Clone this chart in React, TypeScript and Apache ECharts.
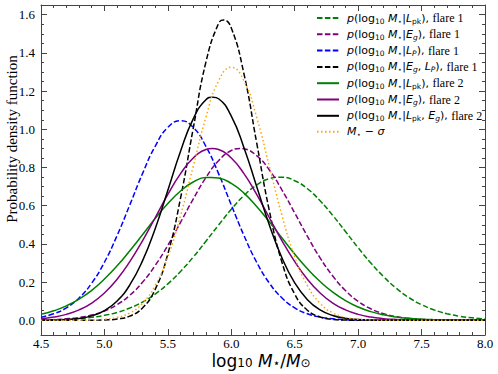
import React, { useEffect, useRef } from "react";
import * as echarts from "echarts";

// x grid (log10 M*/Msun)
const xs = [
  4.5, 4.6, 4.7, 4.8, 4.9, 5.0, 5.1, 5.2, 5.3, 5.4, 5.5, 5.6, 5.7, 5.8, 5.9, 6.0, 6.1, 6.2,
  6.3, 6.4, 6.5, 6.6, 6.7, 6.8, 6.9, 7.0, 7.1, 7.2, 7.3, 7.4, 7.5, 7.6, 7.7, 7.8, 7.9, 8.0,
];

const lpkFlare1 = [
  0.0015, 0.0028, 0.0051, 0.0091, 0.0156, 0.0259, 0.0415, 0.0641, 0.0955, 0.1375, 0.191, 0.256,
  0.331, 0.414, 0.499, 0.581, 0.653, 0.708, 0.742, 0.749, 0.731, 0.689, 0.626, 0.549, 0.465, 0.38,
  0.3, 0.229, 0.168, 0.119, 0.0818, 0.0541, 0.0346, 0.0213, 0.0127, 0.0073,
];
const egFlare1 = [
  0.0017, 0.0037, 0.0075, 0.0148, 0.0275, 0.0487, 0.0819, 0.131, 0.199, 0.287, 0.393, 0.513, 0.635,
  0.747, 0.836, 0.889, 0.898, 0.862, 0.787, 0.682, 0.562, 0.44, 0.327, 0.232, 0.156, 0.0994, 0.0603,
  0.0348, 0.0191, 0.0099, 0.0049, 0.0023, 0.001, 0.0004, 0.0002, 0.0001,
];
const lpFlare1 = [
  0.0165, 0.034, 0.0651, 0.117, 0.195, 0.304, 0.444, 0.604, 0.768, 0.911, 1.01, 1.045, 1.01, 0.911,
  0.768, 0.604, 0.444, 0.304, 0.195, 0.117, 0.0651, 0.034, 0.0165, 0.0075, 0.0032, 0.0013, 0.0005,
  0.0002, 0.0001, 0, 0, 0, 0, 0, 0, 0,
];
const egLpFlare1 = [
  0, 0, 0, 0.0001, 0.0003, 0.0016, 0.0064, 0.0221, 0.0647, 0.162, 0.348, 0.64, 1.005, 1.352, 1.555,
  1.531, 1.29, 0.93, 0.574, 0.303, 0.137, 0.0528, 0.0175, 0.0049, 0.0012, 0.0002, 0, 0, 0, 0, 0, 0,
  0, 0, 0, 0,
];
const lpkFlare2 = [
  0.0314, 0.0496, 0.0755, 0.111, 0.157, 0.216, 0.285, 0.364, 0.448, 0.533, 0.611, 0.677, 0.724,
  0.748, 0.745, 0.717, 0.666, 0.596, 0.516, 0.431, 0.347, 0.27, 0.203, 0.147, 0.103, 0.0696, 0.0454,
  0.0286, 0.0174, 0.0102, 0.0058, 0.0032, 0.0017, 0.0008, 0.0004, 0.0002,
];
const egFlare2 = [
  0.0087, 0.0168, 0.031, 0.0543, 0.0903, 0.143, 0.215, 0.307, 0.416, 0.537, 0.659, 0.768, 0.85,
  0.894, 0.894, 0.85, 0.768, 0.659, 0.537, 0.416, 0.307, 0.215, 0.143, 0.0903, 0.0543, 0.031,
  0.0168, 0.0087, 0.0042, 0.002, 0.0009, 0.0004, 0.0002, 0.0001, 0, 0,
];
const lpkEgFlare2 = [
  0.0004, 0.0013, 0.0038, 0.0098, 0.0232, 0.0505, 0.101, 0.185, 0.311, 0.48, 0.681, 0.885, 1.055,
  1.155, 1.16, 1.069, 0.904, 0.701, 0.499, 0.326, 0.196, 0.108, 0.0543, 0.0252, 0.0107, 0.0042,
  0.0015, 0.0005, 0.0002, 0, 0, 0, 0, 0, 0, 0,
];
const mStarSigma = [
  0, 0, 0.0001, 0.0005, 0.0017, 0.0053, 0.0152, 0.0387, 0.0887, 0.182, 0.333, 0.548, 0.806, 1.063,
  1.254, 1.325, 1.254, 1.063, 0.806, 0.548, 0.333, 0.182, 0.0887, 0.0387, 0.0152, 0.0053, 0.0017,
  0.0005, 0.0001, 0, 0, 0, 0, 0, 0, 0,
];

// peak position and height of each curve
const peakX = [6.385, 6.07, 5.6, 5.94, 5.84, 5.85, 5.855, 6.0];
const peakY = [0.749, 0.9, 1.045, 1.572, 0.748, 0.9, 1.168, 1.325];

const xTicks = [4.5, 5.0, 5.5, 6.0, 6.5, 7.0, 7.5, 8.0];
const yTicks = [0, 0.2, 0.4, 0.6, 0.8, 1.0, 1.2, 1.4, 1.6];
const yMinorTicks = [
  0.05, 0.1, 0.15, 0.25, 0.3, 0.35, 0.45, 0.5, 0.55, 0.65, 0.7, 0.75, 0.85, 0.9, 0.95, 1.05, 1.1,
  1.15, 1.25, 1.3, 1.35, 1.45, 1.5, 1.55, 1.65,
];

const seriesNames = [
  "p(log10 M⋆|Lpk), flare 1",
  "p(log10 M⋆|Eg), flare 1",
  "p(log10 M⋆|LP), flare 1",
  "p(log10 M⋆|Eg, LP), flare 1",
  "p(log10 M⋆|Lpk), flare 2",
  "p(log10 M⋆|Eg), flare 2",
  "p(log10 M⋆|Lpk, Eg), flare 2",
  "M⋆ − σ",
];
const seriesValues = [
  lpkFlare1, egFlare1, lpFlare1, egLpFlare1, lpkFlare2, egFlare2, lpkEgFlare2, mStarSigma,
];

const PRE = "{p|p}{n|(log}{s|10}{i| M}{s|⋆}{n||}";
const legendRichText: Record<string, string> = {
  [seriesNames[0]]: PRE + "{i|L}{s|pk}{n|), }{t|flare 1}",
  [seriesNames[1]]: PRE + "{i|E}{si|g}{n|), }{t|flare 1}",
  [seriesNames[2]]: PRE + "{i|L}{si|P}{n|), }{t|flare 1}",
  [seriesNames[3]]: PRE + "{i|E}{si|g}{n|, }{i|L}{si|P}{n|), }{t|flare 1}",
  [seriesNames[4]]: PRE + "{i|L}{s|pk}{n|), }{t|flare 2}",
  [seriesNames[5]]: PRE + "{i|E}{si|g}{n|), }{t|flare 2}",
  [seriesNames[6]]: PRE + "{i|L}{s|pk}{n|, }{i|E}{si|g}{n|), }{t|flare 2}",
  [seriesNames[7]]: "{p|M}{s|⋆}{n| − }{i|σ}",
};

const DASH = [5.5, 2.4];
const DOT = [1.5, 2.5];
const seriesStyles = [
  { color: "#008000", type: DASH },
  { color: "#800080", type: DASH },
  { color: "#0000ff", type: DASH },
  { color: "#000000", type: DASH },
  { color: "#008000", type: "solid" },
  { color: "#800080", type: "solid" },
  { color: "#000000", type: "solid" },
  { color: "#ffa500", type: DOT },
];

const FRAME = "#444";
const SERIF = "'Liberation Serif', 'Times New Roman', serif";
const SANS = "'DejaVu Sans', sans-serif";

function buildData(k: number): number[][] {
  const pts: number[][] = xs
    .map((x, i) => [x, seriesValues[k][i]])
    .filter((p) => Math.abs(p[0] - peakX[k]) > 1e-6);
  pts.push([peakX[k], peakY[k]]);
  pts.sort((a, b) => a[0] - b[0]);
  return pts;
}

export default function App() {
  const ref = useRef<HTMLDivElement>(null);
  useEffect(() => {
    if (!ref.current) return;
    const chart = echarts.init(ref.current, undefined, { renderer: "svg" });
    const yMin = -0.077;
    const yMax = 1.651;
    const baseY = {
      type: "value",
      min: yMin,
      max: yMax,
      splitLine: { show: false },
      axisLine: { show: true, lineStyle: { color: FRAME, width: 1 } },
    };
    const baseX = {
      type: "value",
      min: 4.5,
      max: 8.0,
      interval: 0.5,
      splitLine: { show: false },
      axisLine: { show: true, onZero: false, lineStyle: { color: FRAME, width: 1 } },
      axisTick: { show: true, inside: true, length: 6, lineStyle: { color: FRAME } },
      minorTick: { show: true, splitNumber: 5, length: 3, lineStyle: { color: FRAME } },
    };
    const sub = { fontFamily: SANS, fontSize: 7.5, lineHeight: 5, verticalAlign: "bottom" };
    chart.setOption({
      animation: false,
      backgroundColor: "#fff",
      grid: { left: 41, right: 13, top: 5, bottom: 39, containLabel: false },
      xAxis: [
        {
          ...baseX,
          position: "bottom",
          axisLabel: {
            show: true,
            margin: 2,
            color: "#000",
            fontFamily: SERIF,
            fontSize: 13,
            customValues: xTicks,
            formatter: (v: number) => v.toFixed(1),
          },
        },
        { ...baseX, position: "top", axisLabel: { show: false } },
      ],
      yAxis: [
        {
          ...baseY,
          position: "left",
          axisTick: { show: true, inside: true, length: 6, customValues: yTicks, lineStyle: { color: FRAME } },
          axisLabel: {
            show: true,
            margin: 6,
            color: "#000",
            fontFamily: SERIF,
            fontSize: 13,
            customValues: yTicks,
            formatter: (v: number) => v.toFixed(1),
          },
        },
        {
          ...baseY,
          position: "left",
          axisLine: { show: false },
          axisTick: { show: true, inside: true, length: 3, customValues: yMinorTicks, lineStyle: { color: FRAME } },
          axisLabel: { show: false },
        },
        {
          ...baseY,
          position: "right",
          axisTick: { show: true, inside: true, length: 6, customValues: yTicks, lineStyle: { color: FRAME } },
          axisLabel: { show: false },
        },
        {
          ...baseY,
          position: "right",
          axisLine: { show: false },
          axisTick: { show: true, inside: true, length: 3, customValues: yMinorTicks, lineStyle: { color: FRAME } },
          axisLabel: { show: false },
        },
      ],
      legend: {
        orient: "vertical",
        left: 316,
        top: 12,
        itemWidth: 22,
        itemHeight: 14,
        itemGap: 3.3,
        padding: 0,
        data: seriesNames,
        itemStyle: { opacity: 0 },
        formatter: (name: string) => legendRichText[name] || name,
        textStyle: {
          color: "#000",
          rich: {
            p: { fontFamily: SANS, fontStyle: "italic", fontSize: 11, lineHeight: 14, padding: [0, 0, 0, 3] },
            i: { fontFamily: SANS, fontStyle: "italic", fontSize: 11, lineHeight: 14 },
            n: { fontFamily: SANS, fontSize: 11, lineHeight: 14 },
            s: sub,
            si: { ...sub, fontStyle: "italic" },
            t: { fontFamily: SERIF, fontSize: 12, lineHeight: 14 },
          },
        },
      },
      graphic: [
        {
          type: "text",
          x: 12,
          y: 139,
          rotation: Math.PI / 2,
          style: {
            text: "Probability density function",
            fontFamily: SERIF,
            fontSize: 15,
            fill: "#000",
            align: "center",
            verticalAlign: "middle",
          },
        },
        {
          type: "text",
          x: 261,
          y: 361,
          style: {
            text: "{n|log}{s|10}{i| M}{s|⋆}{n|/}{i|M}{s|⊙}",
            align: "center",
            verticalAlign: "middle",
            fill: "#000",
            rich: {
              n: { fontFamily: SANS, fontSize: 17, lineHeight: 16 },
              i: { fontFamily: SANS, fontStyle: "italic", fontSize: 17, lineHeight: 16 },
              s: { fontFamily: SANS, fontSize: 12, lineHeight: 6, verticalAlign: "bottom" },
            },
          },
        },
      ],
      series: seriesNames.map((name, k) => ({
        name,
        type: "line",
        xAxisIndex: 0,
        yAxisIndex: 0,
        smooth: true,
        symbol: "none",
        showSymbol: false,
        data: buildData(k),
        lineStyle: {
          color: seriesStyles[k].color,
          type: seriesStyles[k].type,
          width: 1.5,
        },
        itemStyle: { color: seriesStyles[k].color },
        z: 2 + k,
      })),
    });
    return () => chart.dispose();
  }, []);
  return (
    <div
      ref={ref}
      style={{ position: "fixed", left: 0, top: 0, width: 498, height: 374, background: "#fff" }}
    />
  );
}
